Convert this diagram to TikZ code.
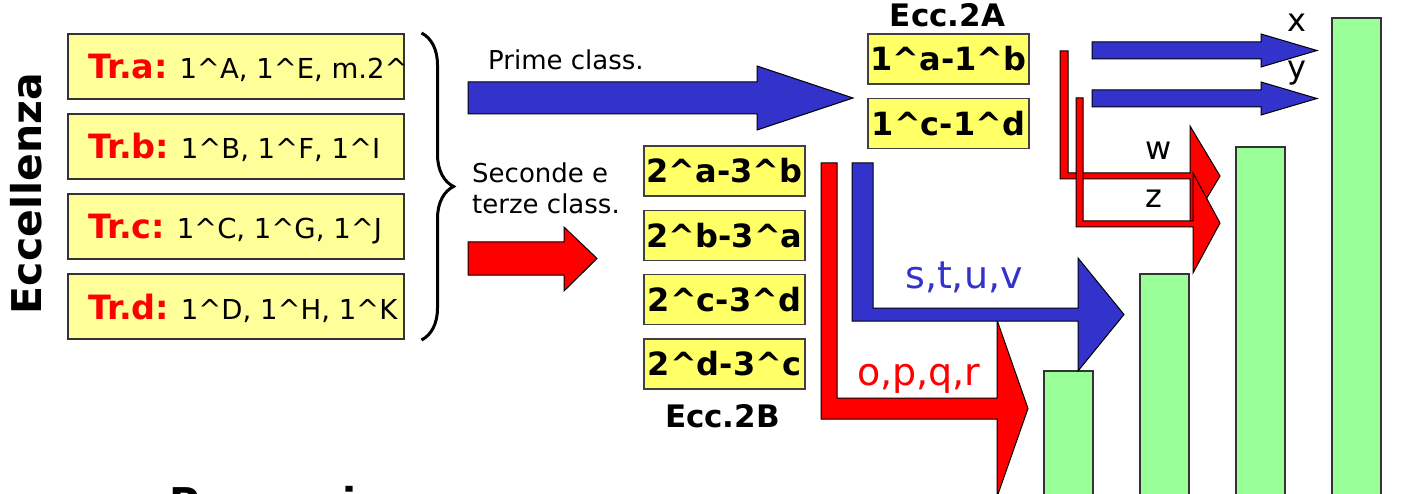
\documentclass[tikz,border=0pt]{standalone}
\usepackage{fontspec}
\setmainfont{DejaVu Sans}
\usetikzlibrary{decorations.pathreplacing}
\definecolor{flowblue}{HTML}{3333CC}
\definecolor{flowred}{HTML}{FF0000}
\definecolor{paleyellow}{HTML}{FFFF99}
\definecolor{eccyellow}{HTML}{FFFF66}
\definecolor{bargreen}{HTML}{99FF99}
\def\crt{\textasciicircum}
\def\fsz#1{\fontsize{#1}{#1}\selectfont}
\tikzset{
  trbox/.style={draw=black!80, line width=1.2pt, fill=paleyellow, minimum width=336pt, minimum height=65pt, inner sep=0pt},
  eccbox/.style={draw=black!75, line width=1.2pt, fill=eccyellow, minimum width=161pt, minimum height=50pt, inner sep=0pt, font=\bfseries\fsz{32}},
  fatblue/.style={draw=black, line width=1pt, fill=flowblue},
  fatred/.style={draw=black, line width=1pt, fill=flowred},
  greenbar/.style={draw=black!80, line width=1.2pt, fill=bargreen},
  lbl/.style={anchor=base west, inner sep=0pt}
}

\begin{document}
\begin{tikzpicture}[x=1pt,y=-1pt]
		%%%%% START %%%%%
		\useasboundingbox (0,0) rectangle (1407,494);
		\clip (0,0) rectangle (1407,494);
		
		\node[rotate=90, anchor=base, inner sep=0pt, font=\bfseries\fsz{41}] (eccellenza) at (41,193.5) {Eccellenza};
		
		\foreach \n/\yc/\lst in {a/66.5/{1\crt A, 1\crt E, m.2\crt}, b/146.5/{1\crt B, 1\crt F, 1\crt I}, c/226.5/{1\crt C, 1\crt G, 1\crt J}, d/306.5/{1\crt D, 1\crt H, 1\crt K}} {
			\node[trbox] (tr\n) at (236,\yc) {};
			\begin{scope}
				\clip (tr\n.south west) rectangle (tr\n.north east);
				\node[lbl, font=\fsz{27.5}] (tr\n txt) at (88,\yc+12.5) {\textcolor{flowred}{\bfseries\fsz{33.5}Tr.\n:} \lst};
			\end{scope}
		}
		
		\draw[line width=3pt, decorate, decoration={brace, amplitude=32pt}] (421.5,33) -- (421.5,340);
		
		% arrows out of the brace
		\draw[fatblue] (468,82) -- (757,82) -- (757,66) -- (853,98) -- (757,130) -- (757,114) -- (468,114) -- cycle;
		\node[lbl, font=\fsz{26}] (prime) at (488,70) {Prime class.};
		\node[lbl, font=\fsz{26}] (seconde) at (472,183) {Seconde e};
		\node[lbl, font=\fsz{26}] (terze) at (472,214) {terze class.};
		\draw[fatred] (468,242) -- (564,242) -- (564,227) -- (597,258.5) -- (564,291) -- (564,275) -- (468,275) -- cycle;
		
		% Ecc.2B
		\foreach \txt [count=\i] in {2\crt a-3\crt b, 2\crt b-3\crt a, 2\crt c-3\crt d, 2\crt d-3\crt c}
			\node[eccbox] (eccb\i) at (724.5,{171+64.3*(\i-1)}) {\txt};
		\node[anchor=base, inner sep=0pt, font=\bfseries\fsz{31}] (ecc2b) at (722.5,427) {Ecc.2B};
		
		% Ecc.2A
		\node[eccbox] (ecca1) at (948.5,59) {1\crt a-1\crt b};
		\node[eccbox] (ecca2) at (948.5,123.5) {1\crt c-1\crt d};
		\node[anchor=base, inner sep=0pt, font=\bfseries\fsz{31}] (ecc2a) at (947.5,27) {Ecc.2A};
		
		% bars
		\foreach \xl/\yt in {1044/371, 1140/274, 1236/147, 1332/18}
			\draw[greenbar] (\xl,\yt) rectangle (\xl+49,520);
		
		% bent arrows
		\draw[fatred] (821,163) -- (837,163) -- (837,398) -- (997,398) -- (997,320) -- (1028,408.5) -- (997,497) -- (997,419) -- (821,419) -- cycle;
		\draw[fatblue] (852,163) -- (873,163) -- (873,308) -- (1078,308) -- (1078,258) -- (1124,314.5) -- (1078,371) -- (1078,321) -- (852,321) -- cycle;
		\node[lbl, font=\fsz{38}, text=flowblue] (stuv) at (905,288) {s,t,u,v};
		\node[lbl, font=\fsz{38}, text=flowred] (opqr) at (857,385) {o,p,q,r};
		
		\draw[fatred] (1060,51) -- (1068,51) -- (1068,173) -- (1190,173) -- (1190,126) -- (1220,176) -- (1190,226) -- (1190,179) -- (1060,179) -- cycle;
		\draw[fatred] (1076,98) -- (1083,98) -- (1083,221) -- (1193,221) -- (1193,173) -- (1220,223) -- (1193,273) -- (1193,227) -- (1076,227) -- cycle;
		\node[lbl, font=\fsz{32}] (w) at (1145,160) {w};
		\node[lbl, font=\fsz{32}] (z) at (1145,208) {z};
		
		\draw[fatblue] (1092,42) -- (1261,42) -- (1261,34) -- (1317,50.5) -- (1261,67) -- (1261,59) -- (1092,59) -- cycle;
		\draw[fatblue] (1092,90) -- (1261,90) -- (1261,82) -- (1317,98.5) -- (1261,115) -- (1261,107) -- (1092,107) -- cycle;
		\node[lbl, font=\fsz{32}] (x) at (1287,32) {x};
		\node[lbl, font=\fsz{32}] (y) at (1287,79) {y};
		
		\node[lbl, font=\bfseries\fsz{41}] (promozione) at (169,517) {Promozione};
		%%%%% END %%%%%
\end{tikzpicture}
\end{document}
